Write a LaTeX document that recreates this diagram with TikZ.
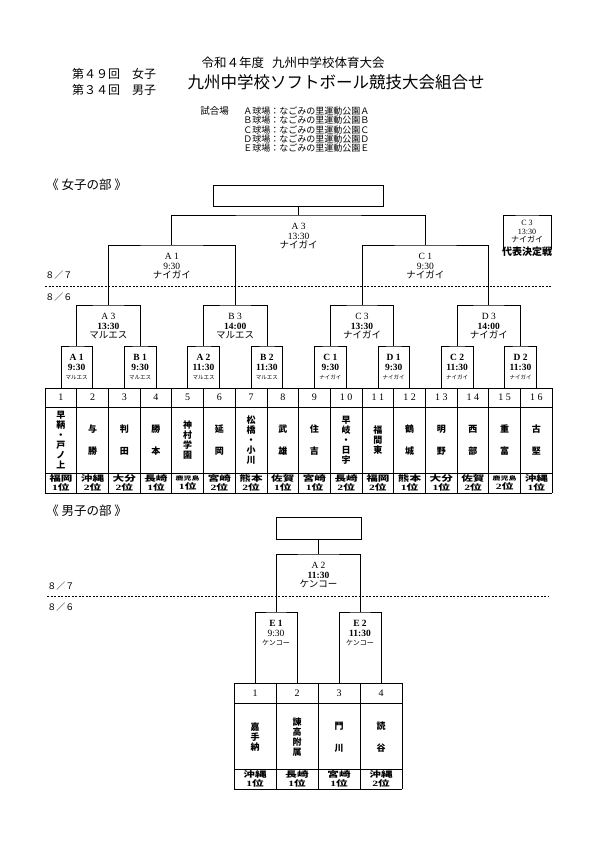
\documentclass[tikz,border=0pt]{standalone}
\usepackage{fontspec}
\setmainfont{Noto Sans CJK JP}
\newfontfamily\sr{Liberation Serif}
\usetikzlibrary{calc,positioning}

\begin{document}
\begin{tikzpicture}[x=1pt,y=-1pt,line width=0.7pt]

	\tikzset{%
		spiel/.style  = {align = center, anchor = north, inner sep = 0pt, font = \fontsize{9.5}{9.6}\selectfont}, % Spielbezeichnung
		schule/.style = {align = center, inner sep = 0pt, font = \fontsize{9}{10}\selectfont\bfseries}, % Schulname
		land/.style   = {align = center, inner sep = 0pt, xscale = 1.45, font = \fontsize{8}{9.5}\selectfont\bfseries}, % Praefektur
		nummer/.style = {inner sep = 0pt, font = \sr\fontsize{10}{10}\selectfont},
		sieger/.style = {draw, rectangle, inner sep = 0pt},
		datum/.style  = {anchor = west, inner sep = 0pt, font = \fontsize{9}{10}\selectfont},
		trenn/.style  = {dash pattern = on 2pt off 1.5pt, line width = 0.6pt},
		kopf/.style   = {inner sep = 0pt}
	}

	\useasboundingbox (0,0) rectangle (595,842);

	% Kopf
	\node[kopf, font=\fontsize{12.5}{14}\selectfont] (jahr) at (293,63) {令和４年度\hspace{8pt}九州中学校体育大会};
	\node[kopf, font=\fontsize{16.5}{18}\selectfont] (titel) at (336,82) {九州中学校ソフトボール競技大会組合せ};
	\node[kopf, font=\fontsize{12}{16}\selectfont, align=left] (runde) at (114,82) {第４９回　女子\\第３４回　男子};
	\node[kopf, font=\fontsize{9.5}{10}\selectfont, anchor=west] (platz) at (200,111) {試合場};
	\node[kopf, font=\fontsize{9}{9.3}\selectfont, align=left, anchor=north west] (orte) at (243,106.5)
		{Ａ球場：なごみの里運動公園Ａ\\Ｂ球場：なごみの里運動公園Ｂ\\Ｃ球場：なごみの里運動公園Ｃ\\Ｄ球場：なごみの里運動公園Ｄ\\Ｅ球場：なごみの里運動公園Ｅ};

	% ---------------- Damen ----------------
	\node[kopf, font=\fontsize{12.5}{14}\selectfont, anchor=west] (damen) at (46,185) {《\ 女子の部\ 》};
	\node[sieger, minimum width=170pt, minimum height=21pt] (siegerD) at (298.6,195.5) {};

	% Tabelle
	\foreach \i in {0,...,16}
		\draw (45+31.7*\i,388) -- (45+31.7*\i,493);
	\foreach \y in {388,407,473,493}
		\draw (45,\y) -- (552.2,\y);

	\foreach \i/\z/\s/\p in {
		1/1/{早\\鞆\\・\\戸\\ノ\\上}/{福岡\\{\sr 1}位},
		2/2/{与\\[12pt]勝}/{沖縄\\{\sr 2}位},
		3/3/{判\\[12pt]田}/{大分\\{\sr 2}位},
		4/4/{勝\\[12pt]本}/{長崎\\{\sr 1}位},
		5/5/{神\\村\\学\\園}/{\fontsize{5.5}{9.5}\selectfont 鹿児島\\\fontsize{8}{9.5}\selectfont{\sr 1}位},
		6/6/{延\\[12pt]岡}/{宮崎\\{\sr 2}位},
		7/7/{松\\橋\\・\\小\\川}/{熊本\\{\sr 2}位},
		8/8/{武\\[12pt]雄}/{佐賀\\{\sr 1}位},
		9/9/{住\\[12pt]吉}/{宮崎\\{\sr 1}位},
		10/{1 0}/{早\\岐\\・\\日\\宇}/{長崎\\{\sr 2}位},
		11/{1 1}/{福\\間\\東}/{福岡\\{\sr 2}位},
		12/{1 2}/{鶴\\[12pt]城}/{熊本\\{\sr 1}位},
		13/{1 3}/{明\\[12pt]野}/{大分\\{\sr 1}位},
		14/{1 4}/{西\\[12pt]部}/{佐賀\\{\sr 2}位},
		15/{1 5}/{重\\[12pt]富}/{\fontsize{5.5}{9.5}\selectfont 鹿児島\\\fontsize{8}{9.5}\selectfont{\sr 2}位},
		16/{1 6}/{古\\[12pt]堅}/{沖縄\\{\sr 1}位}}{
		\node[nummer] (n\i) at (29.15+31.7*\i,397.5) {\z};
		\node[schule] (w\i) at (29.15+31.7*\i,440) {\s};
		\node[land] (p\i) at (29.15+31.7*\i,483) {\p};
		\coordinate (t\i) at (29.15+31.7*\i,388);
	}

	% Spielpaarungen
	\foreach \k in {1,...,8}
		\coordinate (m\k) at (45+63.4*\k-31.7,346);
	\foreach \k in {1,...,4}
		\coordinate (q\k) at (45+126.8*\k-63.4,305);
	\coordinate (s1) at (171.8,245);
	\coordinate (s2) at (425.4,245);
	\coordinate (f) at (298.6,215);

	\draw (t1) |- (m1) -| (t2);
	\draw (t3) |- (m2) -| (t4);
	\draw (t5) |- (m3) -| (t6);
	\draw (t7) |- (m4) -| (t8);
	\draw (t9) |- (m5) -| (t10);
	\draw (t11) |- (m6) -| (t12);
	\draw (t13) |- (m7) -| (t14);
	\draw (t15) |- (m8) -| (t16);
	\draw (m1) |- (q1) -| (m2);
	\draw (m3) |- (q2) -| (m4);
	\draw (m5) |- (q3) -| (m6);
	\draw (m7) |- (q4) -| (m8);
	\draw (q1) |- (s1) -| (q2);
	\draw (q3) |- (s2) -| (q4);
	\draw (s1) |- (f) -| (s2);
	\draw (f) -- (siegerD);

	% Beschriftung erste Runde
	\foreach \k/\a/\t/\o in {1/A 1/9:30/マルエス, 2/B 1/9:30/マルエス, 3/A 2/11:30/マルエス, 4/B 2/11:30/マルエス,
		5/C 1/9:30/ナイガイ, 6/D 1/9:30/ナイガイ, 7/C 2/11:30/ナイガイ, 8/D 2/11:30/ナイガイ}
		\node[spiel] (lm\k) at ($(m\k)+(0,8)$) {{\sr\bfseries \a}\\{\sr\bfseries \t}\\{\fontsize{5.5}{7}\selectfont \o}};
	\node[spiel] (lq1) at ($(q1)+(0,8)$) {{\sr A 3}\\{\sr\bfseries 13:30}\\マルエス};
	\node[spiel] (lq2) at ($(q2)+(0,8)$) {{\sr B 3}\\{\sr\bfseries 14:00}\\マルエス};
	\node[spiel] (lq3) at ($(q3)+(0,8)$) {{\sr C 3}\\{\sr\bfseries 13:30}\\ナイガイ};
	\node[spiel] (lq4) at ($(q4)+(0,8)$) {{\sr D 3}\\{\sr\bfseries 14:00}\\ナイガイ};
	\node[spiel] (ls1) at ($(s1)+(0,8)$) {{\sr A 1}\\{\sr 9:30}\\ナイガイ};
	\node[spiel] (ls2) at ($(s2)+(0,8)$) {{\sr C 1}\\{\sr 9:30}\\ナイガイ};
	\node[spiel] (lf) at ($(f)+(0,8)$) {{\sr A 3}\\{\sr 13:30}\\ナイガイ};

	% Vertreterspiel
	\coordinate (rep) at (527,215);
	\coordinate (rl) at (503,249);
	\coordinate (rr) at (551,249);
	\draw (rl) |- (rep) -| (rr);
	\node[spiel, font=\fontsize{8}{8.6}\selectfont] (lrep) at ($(rep)+(0,5)$) {{\sr C 3}\\{\sr 13:30}\\ナイガイ\\[3pt]{\fontsize{10}{10}\selectfont\bfseries 代表決定戦}};

	% Tage
	\draw[trenn] (45,286) -- (552,286);
	\node[datum] (d7) at (45,275) {８／７};
	\node[datum] (d6) at (45,297) {８／６};

	% ---------------- Herren ----------------
	\node[kopf, font=\fontsize{12.5}{14}\selectfont, anchor=west] (herren) at (46,511) {《\ 男子の部\ 》};
	\node[sieger, minimum width=85pt, minimum height=22pt] (siegerH) at (318.5,528) {};

	\foreach \i in {0,...,4}
		\draw (234+42*\i,683) -- (234+42*\i,789);
	\foreach \y in {683,703,769,789}
		\draw (234,\y) -- (402,\y);

	\foreach \i/\s/\p in {
		1/{嘉\\手\\納}/{沖縄\\{\sr 1}位},
		2/{諫\\高\\附\\属}/{長崎\\{\sr 1}位},
		3/{門\\[12pt]川}/{宮崎\\{\sr 1}位},
		4/{読\\[12pt]谷}/{沖縄\\{\sr 2}位}}{
		\node[nummer] (hn\i) at (213+42*\i,693) {\i};
		\node[schule] (hw\i) at (213+42*\i,737) {\s};
		\node[land] (hp\i) at (213+42*\i,779) {\p};
		\coordinate (u\i) at (213+42*\i,683);
	}

	\coordinate (e1) at (276,612);
	\coordinate (e2) at (360,612);
	\coordinate (g) at (318.5,554);
	\draw (u1) |- (e1) -| (u2);
	\draw (u3) |- (e2) -| (u4);
	\draw (e1) |- (g) -| (e2);
	\draw (g) -- (siegerH);

	\node[spiel] (le1) at ($(e1)+(0,8)$) {{\sr\bfseries E 1}\\{\sr 9:30}\\{\fontsize{7}{8}\selectfont ケンコー}};
	\node[spiel] (le2) at ($(e2)+(0,8)$) {{\sr\bfseries E 2}\\{\sr\bfseries 11:30}\\{\fontsize{7}{8}\selectfont ケンコー}};
	\node[spiel] (lg) at ($(g)+(0,8)$) {{\sr A 2}\\{\sr\bfseries 11:30}\\ケンコー};

	\draw[trenn] (47,596) -- (549,596);
	\node[datum] (hd7) at (47,586) {８／７};
	\node[datum] (hd6) at (47,607) {８／６};

\end{tikzpicture}
\end{document}
